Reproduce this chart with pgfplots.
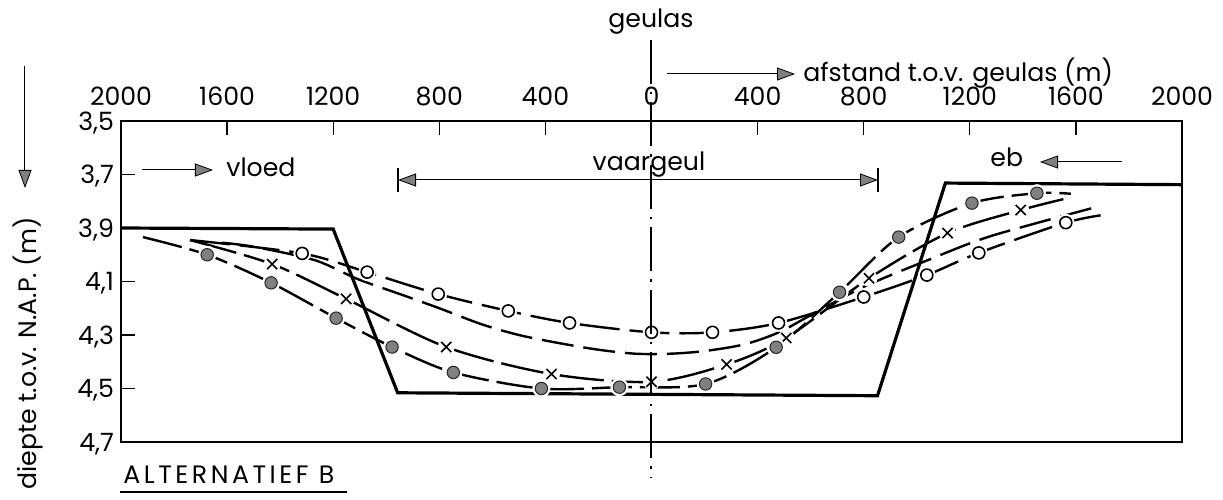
\documentclass[border=0pt]{standalone}
\usepackage{fontspec}
\setmainfont{Poppins}
\usepackage{pgfplots}
\pgfplotsset{compat=1.18}
\usetikzlibrary{arrows.meta}

% bodemprofiel vaargeul
\pgfplotstableread{
x y
-2000 3.900
-1200 3.904
-957 4.516
852 4.527
1108 3.732
2000 3.738
}\profiel

% gevulde rondjes (eerste en laatste rij: eind van de lijn)
\pgfplotstableread{
x y
-1917 3.934
-1675 4.000
-1434 4.105
-1189 4.237
-978 4.345
-747 4.440
-415 4.500
-121 4.495
204 4.483
470 4.346
709 4.140
932 3.934
1208 3.807
1453 3.770
1581 3.772
}\gevuld

% kruisjes
\pgfplotstableread{
x y
-1740 3.945
-1430 4.035
-1151 4.165
-774 4.345
-377 4.446
0 4.475
283 4.410
508 4.311
820 4.088
1116 3.919
1392 3.833
1562 3.790
}\kruis

% open rondjes
\pgfplotstableread{
x y
-1740 3.945
-1317 3.995
-1072 4.065
-804 4.147
-540 4.210
-309 4.255
0 4.290
230 4.290
479 4.255
800 4.158
1038 4.076
1234 3.993
1562 3.880
1725 3.848
}\open

% lijn zonder merkteken
\pgfplotstableread{
x y
-1620 3.955
-1500 3.970
-1270 4.020
-1110 4.090
-940 4.150
-800 4.200
-640 4.260
-500 4.300
-350 4.330
-200 4.355
-60 4.370
70 4.370
200 4.360
350 4.335
480 4.290
611 4.220
800 4.120
1042 4.020
1280 3.930
1683 3.820
}\kaal

\begin{document}
\begin{tikzpicture}[font=\fontsize{12.6}{14}\selectfont,
  pijl/.style={line width=0.5pt, -{Triangle[length=9pt,width=6.5pt,fill=black!50,line width=0.4pt]}}]
\begin{axis}[
  scale only axis, width=530.5pt, height=160.5pt,
  xmin=-2000, xmax=2000, ymin=3.5, ymax=4.7, y dir=reverse,
  xtick={-2000,-1600,-1200,-800,-400,0,400,800,1200,1600,2000},
  xticklabels={2000,1600,1200,800,400,0,400,800,1200,1600,2000},
  ytick={3.5,3.7,3.9,4.1,4.3,4.5,4.7},
  yticklabels={{3,5},{3,7},{3,9},{4,1},{4,3},{4,5},{4,7}},
  xtick pos=right, xticklabel pos=right, ytick pos=left,
  tick align=inside, major tick length=7pt,
  tick style={black, line width=0.6pt},
  axis line style={line width=0.6pt},
  xticklabel shift=4pt,
  yticklabel style={yshift=-1pt},
  clip=false,
]
\addplot[black, line width=1.6pt] table {\profiel};

\addplot[black, line width=1.2pt, smooth, dash pattern=on 16pt off 5pt] table {\kaal};

\addplot[black, line width=1.2pt, smooth, dash pattern=on 20pt off 5pt] table {\open};
\addplot[only marks, mark=*, mark size=4.2pt, white, restrict x to domain=-1600:1650] table {\open};
\addplot[only marks, mark=o, mark size=3pt, black, mark options={line width=0.8pt, fill=white}, restrict x to domain=-1600:1650] table {\open};

\addplot[black, line width=1.2pt, smooth, dash pattern=on 24pt off 4pt] table {\kruis};
\addplot[only marks, mark=*, mark size=4pt, white, restrict x to domain=-1600:1450] table {\kruis};
\addplot[only marks, mark=x, mark size=3.6pt, black, mark options={line width=0.8pt}, restrict x to domain=-1600:1450] table {\kruis};

\addplot[black, line width=1.2pt, smooth, dash pattern=on 20pt off 4pt] table {\gevuld};
\addplot[only marks, mark=*, mark size=4.3pt, white, restrict x to domain=-1800:1500] table {\gevuld};
\addplot[only marks, mark=*, mark size=3.1pt, mark options={draw=black!85, fill=black!50, line width=0.5pt}, restrict x to domain=-1800:1500] table {\gevuld};
\end{axis}

% geulas
\node at (265pt,210pt) {geulas};
\draw[line width=1pt, dash pattern=on 22pt off 4pt on 1.2pt off 4pt] (265pt,201pt) -- (265pt,-18pt);
\draw[pijl] (273pt,184pt) -- (337pt,184pt);
\node[anchor=base west, inner sep=0pt] at (341pt,180pt) {afstand t.o.v. geulas (m)};

% vloed en eb
\draw[pijl] (10.5pt,136pt) -- (46pt,136pt);
\node[anchor=base west, inner sep=0pt] at (52.5pt,132.5pt) {vloed};
\node[anchor=base west, inner sep=0pt] at (434.5pt,137.5pt) {eb};
\draw[pijl] (500.5pt,140pt) -- (459.5pt,140pt);

% vaargeul
\node[anchor=base, inner sep=0pt] at (264pt,135.5pt) {vaargeul};
\draw[line width=0.6pt] (138.5pt,137pt) -- (138.5pt,125pt);
\draw[line width=0.6pt] (378.5pt,137pt) -- (378.5pt,125pt);
\draw[line width=0.5pt, {Triangle[length=9pt,width=6.5pt,fill=black!50,line width=0.4pt]}-{Triangle[length=9pt,width=6.5pt,fill=black!50,line width=0.4pt]}] (138.5pt,131pt) -- (378.5pt,131pt);

% diepte
\draw[pijl] (-48pt,188pt) -- (-48pt,127pt);
\node[rotate=90, anchor=base east, inner sep=0pt] at (-42pt,112.5pt) {diepte t.o.v. N.A.P. (m)};

% alternatief
\node[anchor=base west, inner sep=0pt] at (1pt,-20.5pt) {\addfontfeature{LetterSpace=14}ALTERNATIEF B};
\draw[line width=0.6pt] (-0.5pt,-25pt) -- (113pt,-25pt);

\pgfresetboundingbox
\path[use as bounding box] (-60.5pt,-28.5pt) rectangle (551pt,221pt);
\end{tikzpicture}
\end{document}
